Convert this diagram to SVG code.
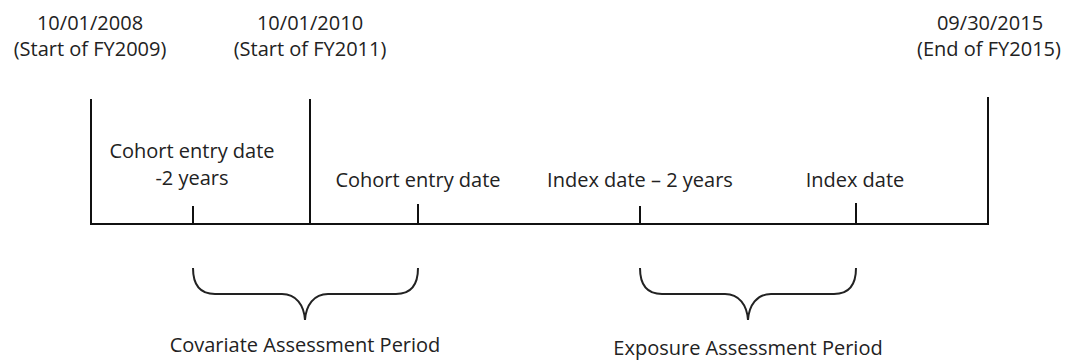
<svg xmlns="http://www.w3.org/2000/svg" width="1067" height="360" viewBox="0 0 1067 360">
<style>
text{font-family:"Open Sans","Liberation Sans",sans-serif;font-size:20px;fill:#222;text-anchor:middle}
.ln{stroke:#111;stroke-width:2;fill:none}
.br{stroke:#222;stroke-width:2;fill:none}
</style>
<rect width="1067" height="360" fill="#fff"/>
<g id="connectors">
<line class="ln" x1="90" y1="224" x2="989" y2="224"/>
<line class="ln" x1="91" y1="99" x2="91" y2="225"/>
<line class="ln" x1="310" y1="99" x2="310" y2="225"/>
<line class="ln" x1="988" y1="97" x2="988" y2="225"/>
<line class="ln" x1="193" y1="206" x2="193" y2="224"/>
<line class="ln" x1="418" y1="204" x2="418" y2="224"/>
<line class="ln" x1="640" y1="206" x2="640" y2="224"/>
<line class="ln" x1="856" y1="203" x2="856" y2="224"/>
</g>
<g id="start2008"><text x="90" y="30">10/01/2008</text><text x="90" y="56">(Start of FY2009)</text></g>
<g id="start2010"><text x="310" y="30">10/01/2010</text><text x="310" y="56">(Start of FY2011)</text></g>
<g id="end2015"><text x="990" y="30">09/30/2015</text><text x="989" y="56">(End of FY2015)</text></g>
<g id="cohort-minus2"><text x="192" y="158">Cohort entry date</text><text x="192" y="185">-2 years</text></g>
<g id="cohort"><text x="418" y="187">Cohort entry date</text></g>
<g id="index-minus2"><text x="640" y="187">Index date – 2 years</text></g>
<g id="index"><text x="855" y="187">Index date</text></g>
<g id="covariate">
<path class="br" d="M193,268 C193,285 200,294 215,294 L282,294 C296,294 304,305 305,320 C306,305 314,294 328,294 L396,294 C411,294 418,285 418,268"/>
<text x="305" y="352">Covariate Assessment Period</text>
</g>
<g id="exposure">
<path class="br" d="M640,268 C640,285 647,294 662,294 L725,294 C739,294 747,305 748,320 C749,305 757,294 771,294 L834,294 C849,294 856,285 856,268"/>
<text x="748" y="355">Exposure Assessment Period</text>
</g>
</svg>
